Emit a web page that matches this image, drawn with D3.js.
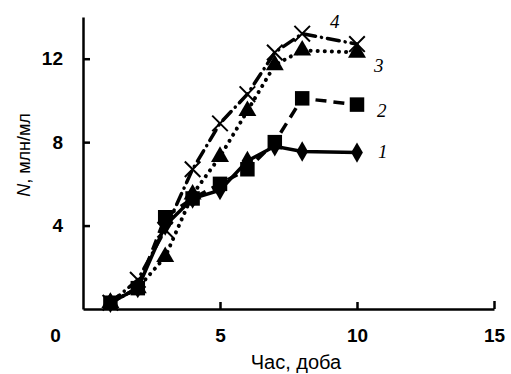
<!DOCTYPE html>
<html>
<head>
<meta charset="utf-8">
<script src="https://cdn.jsdelivr.net/npm/d3@7"></script>
<style>
  body { margin: 0; background: #fff; }
  svg { display: block; }
</style>
</head>
<body>
<div id="root"></div>
<script>
// days and cell density (млн/мл) per curve
const days = [1, 2, 3, 4, 5, 6, 7, 8, 10];
const curve1 = [0.3, 1.0, 4.0, 5.3, 5.7, 7.1, 7.8, 7.55, 7.5];
const curve2 = [0.3, 1.0, 4.4, 5.3, 6.0, 6.7, 8.0, 10.1, 9.8];
const curve3 = [0.3, 1.0, 2.5, 5.5, 7.3, 9.5, 11.7, 12.4, 12.3];
const curve4 = [0.3, 1.4, 3.8, 6.7, 8.9, 10.3, 12.3, 13.2, 12.7];
const curveNames = ["1", "2", "3", "4"];
const xTicks = [0, 5, 10, 15];
const yTicks = [4, 8, 12];

const width = 511, height = 374;
const margin = { left: 83, top: 17, right: 17, bottom: 65 };

const svg = d3.select("#root")
  .append("svg")
  .attr("width", width)
  .attr("height", height);

const x = d3.scaleLinear().domain([0, 15]).range([margin.left, width - margin.right]);
const y = d3.scaleLinear().domain([0, 14]).range([height - margin.bottom, margin.top]);

// axes
const xAxis = svg.append("g")
  .attr("transform", `translate(0,${y(0)})`)
  .call(d3.axisBottom(x).tickValues(xTicks).tickSizeInner(-7).tickSizeOuter(0).tickPadding(20));
const yAxis = svg.append("g")
  .attr("transform", `translate(${x(0)},0)`)
  .call(d3.axisLeft(y).tickValues(yTicks).tickSizeInner(-7).tickSizeOuter(0).tickPadding(20));

[xAxis, yAxis].forEach(g => {
  g.select(".domain").attr("stroke", "#000").attr("stroke-width", 2.5);
  g.selectAll(".tick line").attr("stroke", "#000").attr("stroke-width", 2.5);
  g.selectAll("text")
    .attr("fill", "#000")
    .style("font-family", "Liberation Sans, Arial, sans-serif")
    .style("font-size", "19px")
    .style("font-weight", "bold");
});
xAxis.selectAll(".tick").filter(d => d === 0).select("line").remove();
xAxis.selectAll(".tick").filter(d => d === 0).select("text").attr("x", -28);
xAxis.selectAll(".tick").filter(d => d === 15).select("line").attr("y2", -8);

// axis titles
svg.append("text")
  .attr("x", 296).attr("y", 369)
  .attr("text-anchor", "middle")
  .style("font-family", "Liberation Sans, Arial, sans-serif")
  .style("font-size", "20px")
  .text("Час, доба");

const yt = svg.append("text")
  .attr("transform", "translate(30,155) rotate(-90)")
  .attr("text-anchor", "middle")
  .style("font-family", "Liberation Sans, Arial, sans-serif")
  .style("font-size", "18px");
yt.append("tspan").style("font-style", "italic").text("N");
yt.append("tspan").text(", млн/мл");

// curves
const series = [
  { name: curveNames[0], values: curve1, dash: null, cap: "butt", marker: "diamond" },
  { name: curveNames[1], values: curve2, dash: "11,7", cap: "butt", marker: "square" },
  { name: curveNames[2], values: curve3, dash: "0.1,7", cap: "round", marker: "triangle" },
  { name: curveNames[3], values: curve4, dash: "12,6,0.1,6", cap: "round", marker: "cross" }
];

const line = d3.line().x(d => x(d[0])).y(d => y(d[1]));

series.forEach(s => {
  const pts = days.map((d, i) => [d, s.values[i]]);
  svg.append("path")
    .datum(pts)
    .attr("fill", "none")
    .attr("stroke", "#000")
    .attr("stroke-width", s.marker === "triangle" ? 4 : 3.5)
    .attr("stroke-linecap", s.cap)
    .attr("stroke-dasharray", s.dash)
    .attr("d", line);
});

const symbolType = {
  diamond: d3.symbolDiamond,
  square: d3.symbolSquare,
  triangle: d3.symbolTriangle,
  cross: d3.symbolX
};
const symbolSize = { diamond: 120, square: 210, triangle: 140, cross: 160 };

series.forEach(s => {
  const g = svg.append("g");
  g.selectAll("path")
    .data(days.map((d, i) => [d, s.values[i]]))
    .join("path")
    .attr("transform", d => `translate(${x(d[0])},${y(d[1])})`)
    .attr("d", d3.symbol().type(symbolType[s.marker]).size(symbolSize[s.marker]))
    .attr("fill", s.marker === "cross" ? "none" : "#000")
    .attr("stroke", "#000")
    .attr("stroke-width", s.marker === "cross" ? 2 : 0);
});

// curve numbers
const labelPos = [
  { name: curveNames[0], dx: 21, dy: 5, v: curve1 },
  { name: curveNames[1], dx: 20, dy: 12, v: curve2 },
  { name: curveNames[2], dx: 17, dy: 20, v: curve3 },
  { name: curveNames[3], dx: -27, dy: -16, v: curve4 }
];
labelPos.forEach(l => {
  svg.append("text")
    .attr("x", x(10) + l.dx)
    .attr("y", y(l.v[l.v.length - 1]) + l.dy)
    .style("font-family", "Liberation Serif, Times New Roman, serif")
    .style("font-style", "italic")
    .style("font-size", "19px")
    .text(l.name);
});
</script>
</body>
</html>
